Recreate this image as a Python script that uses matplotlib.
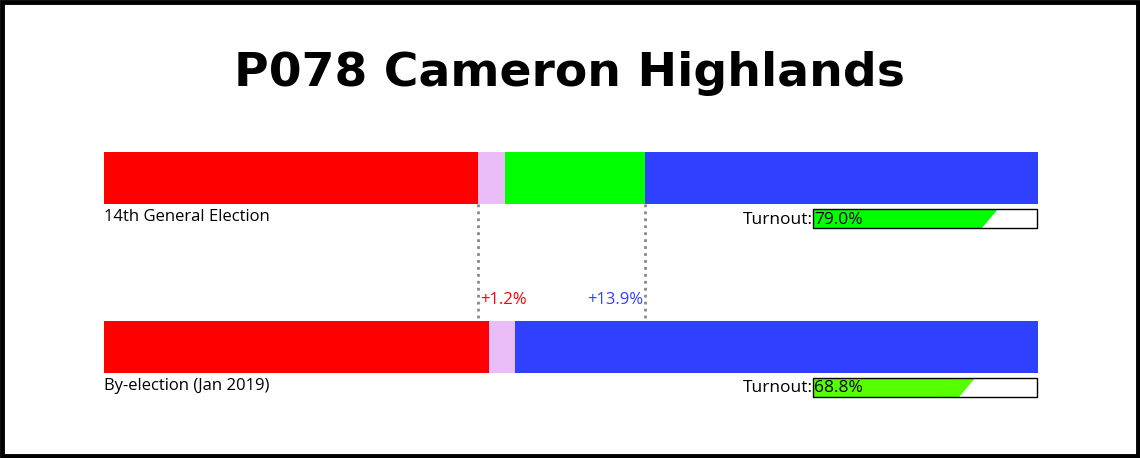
import matplotlib.pyplot as plt
import numpy as np
from matplotlib.patches import Rectangle, Polygon

# vote shares (%)
elections = ['14th General Election', 'By-election (Jan 2019)']
red_share = [40.0, 41.2]
pink_share = [2.9, 2.8]
green_share = [15.0, 0.0]
blue_share = [42.1, 56.0]
turnout = [79.0, 68.8]
swing_labels = ['+1.2%', '+13.9%']

party_colors = ['#ff0000', '#eabcf8', '#00ff00', '#3040ff']
turnout_colors = ['#00ff00', '#55ff00']

W, H = 1140, 458
fig = plt.figure(figsize=(W / 100, H / 100), dpi=100)
ax = fig.add_axes([0, 0, 1, 1])
ax.set_xlim(0, W)
ax.set_ylim(H, 0)
ax.axis('off')

# outer frame
ax.add_patch(Rectangle((2, 2), W - 4, H - 4, fill=False, lw=3.5, ec='black'))

ax.text(W / 2, 73, 'P078 Cameron Highlands', ha='center', va='center',
        fontsize=34, fontweight='bold', family='DejaVu Sans')

x0, bar_w = 104, 934
bar_y = [152, 321]
bar_h = 52
scale = bar_w / 100.0

shares = np.array([red_share, pink_share, green_share, blue_share])
for i, name in enumerate(elections):
    left = x0
    for j in range(4):
        w = shares[j][i] * scale
        if w > 0:
            ax.barh(bar_y[i] + bar_h / 2, w, height=bar_h, left=left,
                    color=party_colors[j], lw=0)
        left += w
    ax.text(x0, bar_y[i] + bar_h + 5, name, ha='left', va='top',
            fontsize=12, family='Open Sans')

    # turnout box
    tx, tw = 813, 224
    ty = bar_y[i] + bar_h + 5
    th = 19
    fill = turnout[i] / 100.0 * tw
    ax.add_patch(Polygon([(tx, ty + th), (tx, ty), (tx + fill + 8, ty),
                          (tx + fill - 8, ty + th)], closed=True,
                         color=turnout_colors[i], lw=0))
    ax.add_patch(Rectangle((tx, ty), tw, th, fill=False, ec='black', lw=1))
    ax.text(tx, ty + th / 2 + 1, 'Turnout:', ha='right', va='center',
            fontsize=12.5, family='Open Sans')
    ax.text(tx + 1, ty + th / 2 + 1, '%.1f%%' % turnout[i], ha='left',
            va='center', fontsize=12.5, family='Open Sans')

# dotted guides at GE14 red edge and GE14 blue start
red_edge = x0 + red_share[0] * scale
blue_start = x0 + (red_share[0] + pink_share[0] + green_share[0]) * scale
for xg in [red_edge, blue_start]:
    ax.plot([xg, xg], [bar_y[0] + bar_h, bar_y[1]], ls=(0, (1, 1.5)),
            color='#888888', lw=2)

ax.text(red_edge + 3, 300, swing_labels[0], ha='left', va='center',
        fontsize=12, color='#ff0000', family='Open Sans')
ax.text(blue_start - 2, 300, swing_labels[1], ha='right', va='center',
        fontsize=12, color='#3040ff', family='Open Sans')

plt.savefig('out.png', dpi=100)
